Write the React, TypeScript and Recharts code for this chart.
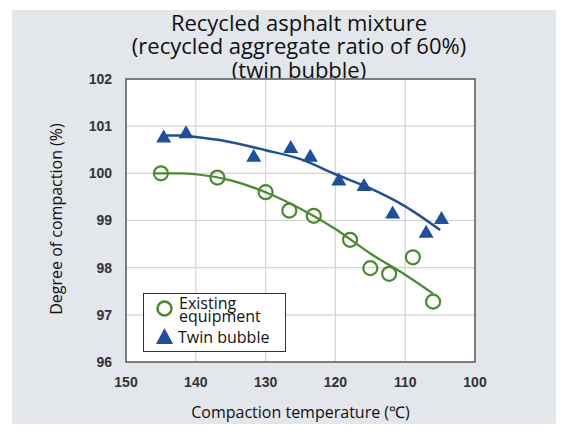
import { ComposedChart, Scatter, Line, XAxis, YAxis, CartesianGrid, ReferenceArea } from "recharts";

const tempExisting = [145.0, 136.9, 130.0, 126.6, 123.1, 117.9, 115.0, 112.3, 108.9, 106.0];
const compExisting = [100.0, 99.91, 99.6, 99.21, 99.1, 98.59, 97.99, 97.87, 98.22, 97.28];

const tempTwin = [144.6, 141.4, 131.7, 126.4, 123.6, 119.5, 115.9, 111.8, 107.0, 104.8];
const compTwin = [100.77, 100.86, 100.36, 100.55, 100.36, 99.86, 99.74, 99.16, 98.75, 99.04];

// fitted curves
const fitTwinTemp = [145, 142, 140, 136, 130, 125, 120, 115, 110, 105];
const fitTwinComp = [100.8, 100.8, 100.77, 100.69, 100.49, 100.3, 99.98, 99.68, 99.3, 98.8];
const fitExistTemp = [146, 142, 140, 135, 130, 125, 120, 115, 110, 106];
const fitExistComp = [100.0, 100.0, 99.98, 99.85, 99.6, 99.25, 98.82, 98.3, 97.85, 97.45];

const xTicks = [150, 140, 130, 120, 110, 100];
const yTicks = [96, 97, 98, 99, 100, 101, 102];

const titleLines = ["Recycled asphalt mixture", "(recycled aggregate ratio of 60%)", "(twin bubble)"];

const BLUE = "#1d4f9f";
const GREEN = "#4a8a2e";

const zip = (xs: number[], ys: number[]) => xs.map((x, i) => ({ x, y: ys[i] }));

const existingData = zip(tempExisting, compExisting);
const twinData = zip(tempTwin, compTwin);
const twinFit = zip(fitTwinTemp, fitTwinComp);
const existFit = zip(fitExistTemp, fitExistComp);

const Ring = (props: any) => {
  const { cx, cy } = props;
  return <circle cx={cx} cy={cy} r={7} fill="none" stroke={GREEN} strokeWidth={2.2} />;
};

const Tri = (props: any) => {
  const { cx, cy } = props;
  return <polygon points={`${cx},${cy - 7.5} ${cx - 7.5},${cy + 5.5} ${cx + 7.5},${cy + 5.5}`} fill={BLUE} />;
};

const tickStyle = { fontFamily: "'Liberation Sans', Arial, sans-serif", fontSize: 14, fontWeight: 700, fill: "#333" };
const textFont = "'Open Sans', sans-serif";

export default function App() {
  return (
    <div style={{ position: "absolute", left: 0, top: 0, width: 563, height: 431, background: "#fff" }}>
      <div style={{ position: "absolute", left: 12, top: 10, width: 544, height: 414, background: "#e3e6ea" }} />
      <div style={{ position: "absolute", left: 0, top: 10.5, width: 598, textAlign: "center", fontFamily: textFont, fontSize: 22, color: "#111" }}>
        {titleLines.map((t) => (
          <div key={t} style={{ height: 23.5, lineHeight: "23.5px" }}>{t}</div>
        ))}
      </div>
      <div style={{ position: "absolute", left: 0, top: 0 }}>
        <ComposedChart width={563} height={431} margin={{ top: 79, right: 88, bottom: 9, left: 46 }}>
          <CartesianGrid stroke="#d4d4d4" strokeWidth={1.2} fill="#fff" verticalValues={[140, 130, 120, 110]} horizontalValues={[97, 98, 99, 100, 101]} />
          <XAxis type="number" dataKey="x" domain={[100, 150]} reversed ticks={xTicks} allowDataOverflow height={60} axisLine={false} tickLine={false} tickSize={6} tickMargin={9} tick={tickStyle} />
          <YAxis type="number" dataKey="y" domain={[96, 102]} ticks={yTicks} allowDataOverflow width={80} axisLine={false} tickLine={false} tickSize={6} tickMargin={8} tick={tickStyle} />
          <ReferenceArea x1={100} x2={150} y1={96} y2={102} fill="none" fillOpacity={0} stroke="#555" strokeWidth={1.5} />
          <Line data={twinFit} dataKey="y" type="monotone" stroke={BLUE} strokeWidth={2.5} dot={false} isAnimationActive={false} />
          <Line data={existFit} dataKey="y" type="monotone" stroke={GREEN} strokeWidth={2.2} dot={false} isAnimationActive={false} />
          <Scatter data={twinData} dataKey="y" shape={Tri} isAnimationActive={false} />
          <Scatter data={existingData} dataKey="y" shape={Ring} isAnimationActive={false} />
        </ComposedChart>
      </div>
      <div style={{ position: "absolute", left: 143, top: 293, width: 141, height: 57, background: "#fff", border: "1.5px solid #333", fontFamily: textFont, fontSize: 16, color: "#111" }}>
        <svg width={30} height={57} style={{ position: "absolute", left: 8, top: 0 }}>
          <circle cx={12.5} cy={14.5} r={7} fill="none" stroke={GREEN} strokeWidth={2.5} />
          <polygon points="12.5,34 4,50 21,50" fill={BLUE} />
        </svg>
        <div style={{ position: "absolute", left: 35, top: 3, height: 13, lineHeight: "13px" }}>Existing</div>
        <div style={{ position: "absolute", left: 35, top: 16, height: 13, lineHeight: "13px" }}>equipment</div>
        <div style={{ position: "absolute", left: 34, top: 34, lineHeight: "18px" }}>Twin bubble</div>
      </div>
      <div style={{ position: "absolute", left: 126, top: 401, width: 349, textAlign: "center", fontFamily: textFont, fontSize: 16, color: "#111" }}>
        Compaction temperature (℃)
      </div>
      <div style={{ position: "absolute", left: 56, top: 219, width: 0, height: 0 }}>
        <div style={{ position: "absolute", left: -150, top: -11, width: 300, textAlign: "center", transform: "rotate(-90deg)", fontFamily: textFont, fontSize: 16, lineHeight: "22px", color: "#111", whiteSpace: "nowrap" }}>
          Degree of compaction (%)
        </div>
      </div>
    </div>
  );
}
